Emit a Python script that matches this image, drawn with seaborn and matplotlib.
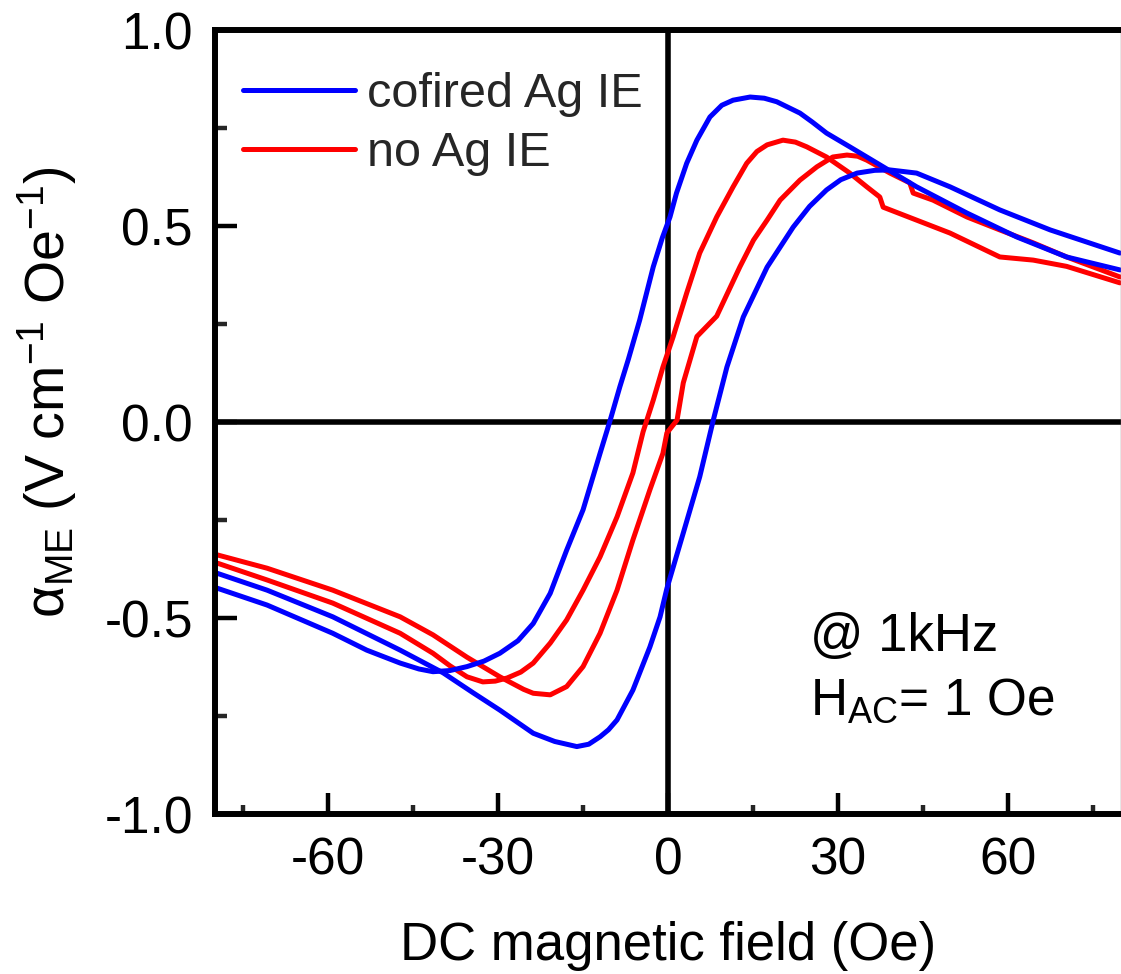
import matplotlib
matplotlib.use("Agg")
import matplotlib.pyplot as plt
from matplotlib.ticker import MultipleLocator
import numpy as np
import pandas as pd
import seaborn as sns

# Magnetoelectric coefficient vs DC bias field, two sweep directions per sample
cofired_dec_x = [-79.6, -70.8, -59.2, -53.2, -47.3, -44.0, -41.5, -38.5, -35.5, -32.5,
                 -29.7, -26.5, -23.8, -20.8, -17.9, -15.0, -12.0, -10.2, -9.5, -8.5,
                 -7.0, -5.0, -2.6, -1.0, 0.35, 1.5, 3.3, 5.1, 7.4, 9.5,
                 11.5, 14.5, 17.0, 19.2, 23.3, 25.5, 28.0, 32.1, 38.0, 43.9,
                 52.8, 61.6, 70.4, 79.8]
cofired_dec_y = [-0.424, -0.467, -0.539, -0.582, -0.615, -0.630, -0.637, -0.634, -0.624, -0.610,
                 -0.590, -0.558, -0.514, -0.437, -0.327, -0.224, -0.080, 0.005, 0.040, 0.090,
                 0.160, 0.260, 0.396, 0.470, 0.523, 0.584, 0.660, 0.719, 0.778, 0.808,
                 0.821, 0.829, 0.826, 0.817, 0.788, 0.765, 0.737, 0.702, 0.651, 0.600,
                 0.533, 0.472, 0.421, 0.388]

cofired_inc_x = [-79.6, -70.8, -59.2, -47.3, -39.7, -34.5, -29.7, -23.8, -20.0, -16.1,
                 -14.0, -12.0, -10.5, -9.0, -6.2, -3.2, -1.4, -0.2, 2.7, 5.6,
                 8.0, 10.4, 13.3, 17.5, 22.1, 25.0, 28.0, 30.5, 33.4, 36.5,
                 39.2, 43.9, 49.8, 58.6, 67.5, 79.8]
cofired_inc_y = [-0.386, -0.429, -0.497, -0.582, -0.640, -0.690, -0.735, -0.794, -0.815, -0.828,
                 -0.822, -0.803, -0.785, -0.760, -0.684, -0.574, -0.497, -0.425, -0.283, -0.140,
                 0.005, 0.140, 0.268, 0.395, 0.497, 0.550, 0.592, 0.618, 0.635, 0.642,
                 0.643, 0.635, 0.600, 0.541, 0.490, 0.431]

noag_dec_x = [-79.6, -70.8, -59.2, -47.3, -41.5, -38.5, -35.5, -32.7, -30.5, -28.4,
              -26.0, -23.8, -20.8, -17.9, -15.0, -12.0, -9.0, -6.2, -4.4, -2.6,
              -0.9, 0.9, 3.3, 5.6, 8.6, 11.5, 13.9, 15.7, 17.5, 20.3,
              22.5, 24.5, 28.0, 32.1, 35.1, 37.4, 38.0, 43.9, 49.8, 58.6,
              64.5, 70.4, 79.8]
noag_dec_y = [-0.360, -0.403, -0.462, -0.539, -0.590, -0.622, -0.650, -0.663, -0.661, -0.653,
              -0.638, -0.615, -0.564, -0.505, -0.429, -0.344, -0.242, -0.130, -0.025, 0.056,
              0.140, 0.217, 0.329, 0.431, 0.523, 0.600, 0.660, 0.690, 0.707, 0.719,
              0.714, 0.702, 0.676, 0.635, 0.600, 0.574, 0.548, 0.515, 0.482, 0.421,
              0.413, 0.397, 0.355]

noag_inc_x = [-79.6, -70.8, -59.2, -47.3, -41.5, -35.5, -29.7, -25.5, -23.8, -20.8,
              -17.9, -15.0, -12.0, -9.0, -6.2, -3.2, -0.9, -0.2, 1.6, 2.7,
              5.1, 8.6, 12.7, 15.1, 17.5, 19.8, 23.3, 26.3, 29.1, 31.6,
              33.5, 35.1, 39.2, 42.7, 43.3, 46.8, 52.8, 58.6, 64.5, 70.4,
              79.8]
noag_inc_y = [-0.339, -0.373, -0.429, -0.497, -0.543, -0.600, -0.650, -0.682, -0.692, -0.696,
              -0.675, -0.624, -0.539, -0.429, -0.301, -0.173, -0.080, -0.028, 0.005, 0.100,
              0.218, 0.270, 0.396, 0.464, 0.515, 0.566, 0.617, 0.651, 0.676, 0.681,
              0.678, 0.668, 0.635, 0.610, 0.584, 0.566, 0.523, 0.490, 0.457, 0.421,
              0.370]

samples = ["cofired Ag IE", "no Ag IE"]
palette = {"cofired Ag IE": "#0000ff", "no Ag IE": "#ff0000"}

x_major = [-60, -30, 0, 30, 60]
y_major = [-1.0, -0.5, 0.0, 0.5, 1.0]

frames = []
for sample, branch, xs, ys in [
    ("no Ag IE", "dec", noag_dec_x, noag_dec_y),
    ("no Ag IE", "inc", noag_inc_x, noag_inc_y),
    ("cofired Ag IE", "dec", cofired_dec_x, cofired_dec_y),
    ("cofired Ag IE", "inc", cofired_inc_x, cofired_inc_y),
]:
    frames.append(pd.DataFrame({"H": xs, "alpha": ys, "sample": sample, "branch": branch}))
df = pd.concat(frames, ignore_index=True)

sns.set_theme(style="ticks")
plt.rcParams["font.family"] = ["Liberation Sans", "DejaVu Sans"]
plt.rcParams["mathtext.fontset"] = "custom"
plt.rcParams["mathtext.rm"] = "Liberation Sans"
plt.rcParams["mathtext.it"] = "Liberation Sans:italic"
plt.rcParams["mathtext.bf"] = "Liberation Sans:bold"
plt.rcParams["axes.unicode_minus"] = False

fig = plt.figure(figsize=(11.21, 9.74), dpi=100)
ax = fig.add_axes([215 / 1121, 1 - 814 / 974, 906 / 1121, 784 / 974])

# red sample first so the blue loop sits on top
for sample in ["no Ag IE", "cofired Ag IE"]:
    sns.lineplot(data=df[df["sample"] == sample], x="H", y="alpha", hue="sample",
                 units="branch", estimator=None, sort=True, palette=palette,
                 linewidth=3.6, ax=ax, legend=False)

ax.axhline(0, color="black", linewidth=4.0, zorder=1)
ax.axvline(0, color="black", linewidth=4.0, zorder=1)

ax.set_xlim(-80, 80)
ax.set_ylim(-1.0, 1.0)
ax.set_xticks(x_major)
ax.set_xticklabels([f"{v:d}" for v in x_major])
ax.set_yticks(y_major)
ax.set_yticklabels([f"{v:.1f}" for v in y_major])
ax.xaxis.set_minor_locator(MultipleLocator(15))
ax.yaxis.set_minor_locator(MultipleLocator(0.25))

ax.tick_params(axis="both", which="major", direction="in", width=3.2, color="black",
               labelsize=37, labelcolor="black", pad=16)
ax.tick_params(axis="x", which="major", length=15)
ax.tick_params(axis="y", which="major", length=16)
ax.tick_params(axis="x", which="minor", direction="in", length=6.5, width=3.2)
ax.tick_params(axis="y", which="minor", direction="in", length=8.5, width=3.2)
ax.tick_params(top=False, right=False, which="both")

for side in ["left", "bottom", "top"]:
    ax.spines[side].set_linewidth(4.3)
    ax.spines[side].set_color("black")
ax.spines["right"].set_linewidth(1.0)
ax.spines["right"].set_color("#888888")

ax.set_xlabel("DC magnetic field (Oe)", fontsize=38, color="black", labelpad=26)
ax.set_ylabel(r"$\mathregular{\alpha_{ME}}$ (V cm$^{\mathregular{-1}}$ Oe$^{\mathregular{-1}}$)",
              fontsize=40, color="black")
ax.yaxis.set_label_coords(-0.15, 0.538)

handles = [plt.Line2D([], [], color=palette[s], linewidth=3.6) for s in samples]
ax.legend(handles, samples, loc="upper left", bbox_to_anchor=(0.031, 0.947), frameon=False,
          fontsize=35, handlelength=2.3, handletextpad=0.25, labelspacing=0.3,
          borderpad=0.0, borderaxespad=0.0)

ax.text(25.1, -0.584, "@ 1kHz", fontsize=38, color="black", va="baseline", ha="left")
ax.text(25.1, -0.747, r"H$_{\mathregular{AC}}$= 1 Oe", fontsize=37, color="black",
        va="baseline", ha="left")

fig.savefig("out.png", dpi=100, facecolor="white")
